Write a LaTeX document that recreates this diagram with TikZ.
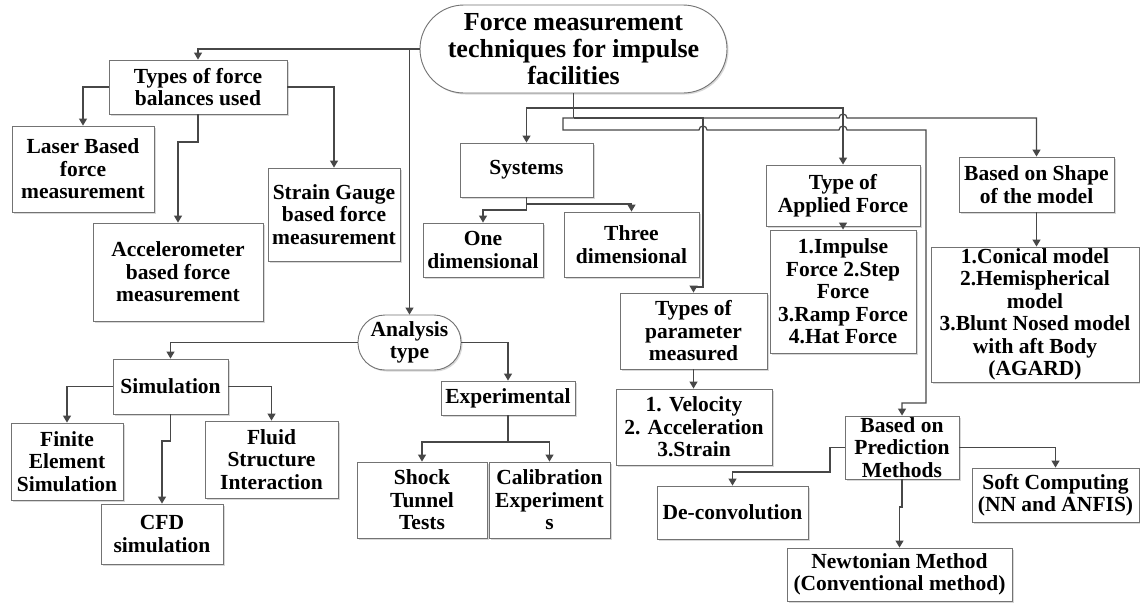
\documentclass[tikz,border=0pt]{standalone}
\usepackage{fontspec}
\setmainfont{Liberation Serif}
\usetikzlibrary{arrows.meta,shadows}
\begin{document}
\begin{tikzpicture}[x=1pt,y=-1pt,
  every node/.style={font=\bfseries\fontsize{21.5}{22.5}\selectfont, align=center, inner sep=0pt, text=black},
  box/.style={draw=black!55, line width=0.9pt, fill=white,
    drop shadow={shadow xshift=1.5pt,shadow yshift=-1.5pt,opacity=0.3}},
  conn/.style={draw=black!72, line width=1.2pt},
  arr/.style={conn, -{Triangle[length=7pt,width=8pt]}},
  hop/.style={}]
\fill[white] (0,0) rectangle (1140,603);
\useasboundingbox (0,0) rectangle (1140,603);

% root
\node[box, rounded corners=44pt, minimum width=307pt, minimum height=88pt,
  font=\bfseries\fontsize{26}{27}\selectfont] (root) at (573.5,49)
  {Force measurement\\techniques for impulse\\facilities};

% left branch
\node[box, minimum width=178pt, minimum height=54pt] (types) at (198,87) {Types of force\\balances used};
\node[box, minimum width=142pt, minimum height=86pt] (laser) at (83,169) {Laser Based\\force\\measurement};
\node[box, minimum width=170pt, minimum height=98pt] (accel) at (178,272) {Accelerometer\\based force\\measurement};
\node[box, minimum width=132pt, minimum height=93pt] (strain) at (334,214.5) {Strain Gauge\\based force\\measurement};

\node[box, rounded corners=27pt, minimum width=103pt, minimum height=55pt] (analysis) at (409.5,342.5) {Analysis\\type};
\node[box, minimum width=115pt, minimum height=55pt] (sim) at (170.5,386.5) {Simulation};
\node[box, minimum width=134pt, minimum height=34pt] (exp) at (508,398) {Experimental};
\node[box, minimum width=112pt, minimum height=77pt] (fem) at (67,461.5) {Finite\\Element\\Simulation};
\node[box, minimum width=122pt, minimum height=60pt] (cfd) at (162,534) {CFD\\simulation};
\node[box, minimum width=133pt, minimum height=77pt] (fsi) at (271.5,459.5) {Fluid\\Structure\\Interaction};
\node[box, minimum width=130pt, minimum height=76pt] (shock) at (422,500) {Shock\\Tunnel\\Tests};
\node[box, minimum width=121pt, minimum height=76pt] (calib) at (549.5,500) {Calibration\\Experiment\\s};

% middle
\node[box, minimum width=133pt, minimum height=54pt] (systems) at (526.5,170) {Systems};
\node[box, minimum width=120pt, minimum height=54pt] (onedim) at (483,250) {One\\dimensional};
\node[box, minimum width=135pt, minimum height=65pt] (threedim) at (631.5,244.5) {Three\\dimensional};
\node[box, minimum width=147pt, minimum height=76pt] (params) at (693.5,331) {Types of\\parameter\\measured};
\node[box, minimum width=156pt, minimum height=76pt] (vel) at (694,427) {1. Velocity\\2. Acceleration\\3.Strain};

% right
\node[box, minimum width=154pt, minimum height=61pt] (applied) at (843,195.5) {Type of\\Applied Force};
\node[box, minimum width=146pt, minimum height=123pt] (impulse) at (843,291.5) {1.Impulse\\Force 2.Step\\Force\\3.Ramp Force\\4.Hat Force};
\node[box, minimum width=155pt, minimum height=55pt] (shape) at (1036.5,184.5) {Based on Shape\\of the model};
\node[box, minimum width=208pt, minimum height=135pt] (conical) at (1035,314.5) {1.Conical model\\2.Hemispherical\\model\\3.Blunt Nosed model\\with aft Body\\(AGARD)};
\node[box, minimum width=114pt, minimum height=63pt] (pred) at (902,447.5) {Based on\\Prediction\\Methods};
\node[box, minimum width=151pt, minimum height=53pt] (deconv) at (732.5,512.5) {De-convolution};
\node[box, minimum width=167pt, minimum height=54pt] (soft) at (1055.5,495) {Soft Computing\\(NN and ANFIS)};
\node[box, minimum width=225pt, minimum height=53pt] (newton) at (899.5,574.5) {Newtonian Method\\(Conventional method)};

% junctions
\coordinate (j1) at (root.west -| analysis.north);
\coordinate (b1) at (root.south |- 0,108);
\coordinate (b2) at (root.south |- 0,118);

% connectors from root
\draw[arr] (root.west) -| (types.north);
\draw[arr] (j1) -- (analysis.north);
\draw[conn] (root.south) -- (b2);
\draw[arr] (b1) -| (systems.north);
\draw[arr] (b1) -| (applied.north);
\draw[arr] (b2) -- (703,118) -- (703,287) -| (params.north);
\draw[arr] (b2) -- (839,118) arc[start angle=180,end angle=0,radius=4pt]
  -- (shape.north |- 0,118) -- (shape.north);
\draw[arr] (b2) -- (563,118) -- (563,130) -- (699,130)
  arc[start angle=180,end angle=0,radius=4pt] -- (839,130)
  arc[start angle=180,end angle=0,radius=4pt] -- (926,130) -- (926,403) -| (pred.north);

% force balances
\draw[arr] (types.west) -| (laser.north);
\draw[arr] (types.south) -- (types.south |- 0,142) -| (accel.north);
\draw[arr] (types.east) -| (strain.north);

% analysis
\draw[arr] (analysis.west) -| (sim.north);
\draw[arr] (analysis.east) -| (exp.north);
\draw[arr] (sim.west) -| (fem.north);
\draw[arr] (sim.east) -| (fsi.north);
\draw[arr] (sim.south) -- (sim.south |- 0,441) -| (cfd.north);
\coordinate (e1) at (exp.south |- 0,442);
\draw[conn] (exp.south) -- (e1);
\draw[arr] (e1) -| (shock.north);
\draw[arr] (e1) -| (calib.north);

% systems
\draw[arr] (systems.south) -- (systems.south |- 0,210) -| (onedim.north);
\draw[arr] (systems.south |- 0,204) -| (threedim.north);
\draw[arr] (params.south) -- (params.south |- vel.north);

% right side
\draw[arr] (applied.south) -- (applied.south |- impulse.north);
\draw[arr] (shape.south) -- (shape.south |- conical.north);
\draw[arr] (pred.west) -- (830,447.5) -- (830,472) -| (deconv.north);
\draw[arr] (pred.east) -| (soft.north);
\draw[arr] (pred.south) -- (pred.south |- 0,507) -| (newton.north);
\end{tikzpicture}
\end{document}
